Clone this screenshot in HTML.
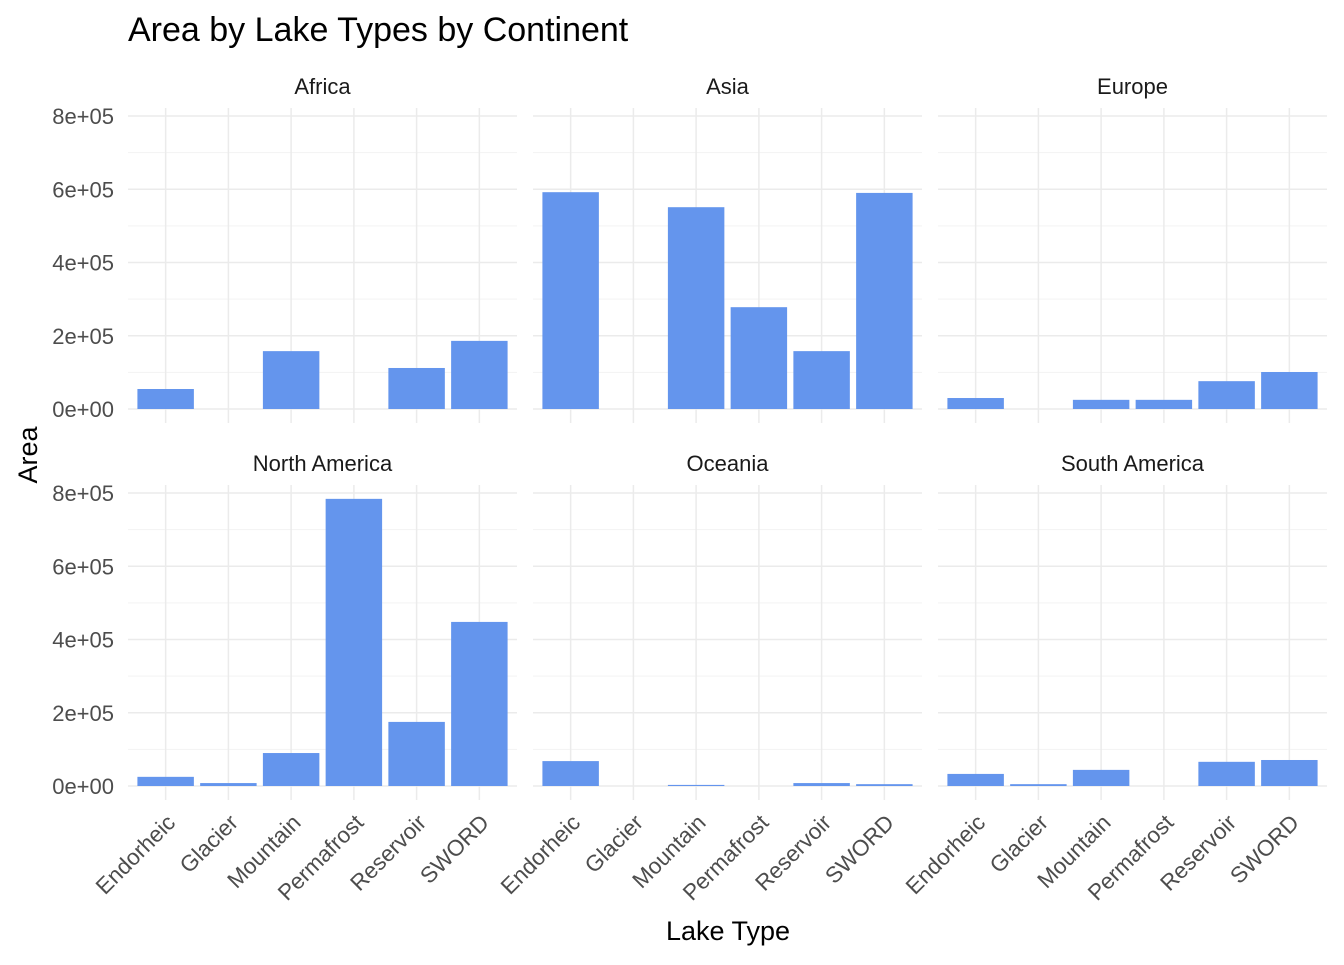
<!DOCTYPE html>
<html><head><meta charset="utf-8"><style>
body{margin:0;background:#fff;}
svg{font-family:"Liberation Sans",Arial,sans-serif;}
</style></head><body>
<svg id="chart" width="1344" height="960" viewBox="0 0 1344 960" xmlns="http://www.w3.org/2000/svg">
<text x="128" y="41" font-size="34" fill="#000">Area by Lake Types by Continent</text>
<text x="728" y="940" font-size="27" text-anchor="middle" fill="#000">Lake Type</text>
<text transform="translate(37,455) rotate(-90)" font-size="27" text-anchor="middle" fill="#000">Area</text>
<g id="plots"></g>
</svg>
<script>
const categories=["Endorheic","Glacier","Mountain","Permafrost","Reservoir","SWORD"];
const continents=["Africa","Asia","Europe","North America","Oceania","South America"];
const africa=[54600,0,158000,0,112000,186000];
const asia=[592000,0,551000,278000,158000,590000];
const europe=[30000,0,25000,25000,76000,101000];
const northAmerica=[25000,8000,90000,784000,175000,448000];
const oceania=[68000,0,3000,0,8000,5000];
const southAmerica=[33000,5000,44000,0,66000,71000];
const yTicks=[0,200000,400000,600000,800000];
const yTickLabels=["0e+00","2e+05","4e+05","6e+05","8e+05"];
const series=[africa,asia,europe,northAmerica,oceania,southAmerica];
const NS="http://www.w3.org/2000/svg";
const g=document.getElementById("plots");
function mk(t,a,p){const e=document.createElementNS(NS,t);for(const k in a)e.setAttribute(k,a[k]);(p||g).appendChild(e);return e;}
const panelX=[128,533,938], pw=389;
const rowZero=[409,786], pxPer=293/800000;
continents.forEach((c,i)=>{
  const col=i%3,row=Math.floor(i/3);
  const x0=panelX[col], y0=rowZero[row];
  const step=pw/6.2;
  const xs=k=>x0+(k+0.6)*step;
  const ys=v=>y0-v*pxPer;
  const pg=mk("g",{});
  
  
  const top=y0-301,bot=y0+14;
  for(let m=100000;m<800000;m+=200000){const l=mk("line",{x1:x0,x2:x0+pw,y1:ys(m),y2:ys(m),stroke:"#f3f3f3","stroke-width":1},pg);}
  yTicks.forEach(t=>{const l=mk("line",{x1:x0,x2:x0+pw,y1:ys(t),y2:ys(t),stroke:"#ebebeb","stroke-width":1.5},pg);});
  categories.forEach((k,j)=>{const l=mk("line",{x1:xs(j),x2:xs(j),y1:top,y2:bot,stroke:"#ebebeb","stroke-width":1.5},pg);});
  series[i].forEach((v,j)=>{const bw=step*0.9;const r=mk("rect",{x:xs(j)-bw/2,y:ys(v),width:bw,height:v*pxPer,fill:"#6495ED"},pg);});
  const st=mk("text",{x:x0+pw/2,y:y0-315,"font-size":22,"text-anchor":"middle",fill:"#1a1a1a"},pg);st.textContent=c;
  
  if(col===0){yTicks.forEach((t,k)=>{const tx=mk("text",{x:114,y:ys(t)+8,"font-size":22,"text-anchor":"end",fill:"#4d4d4d"},pg);tx.textContent=yTickLabels[k];});}
  if(row===1){categories.forEach((k,j)=>{const tx=mk("text",{transform:`translate(${xs(j)+11},${y0+38}) rotate(-45)`,"font-size":22.5,"text-anchor":"end",fill:"#4d4d4d"},pg);tx.textContent=k;});}
});
</script>
</body></html>
